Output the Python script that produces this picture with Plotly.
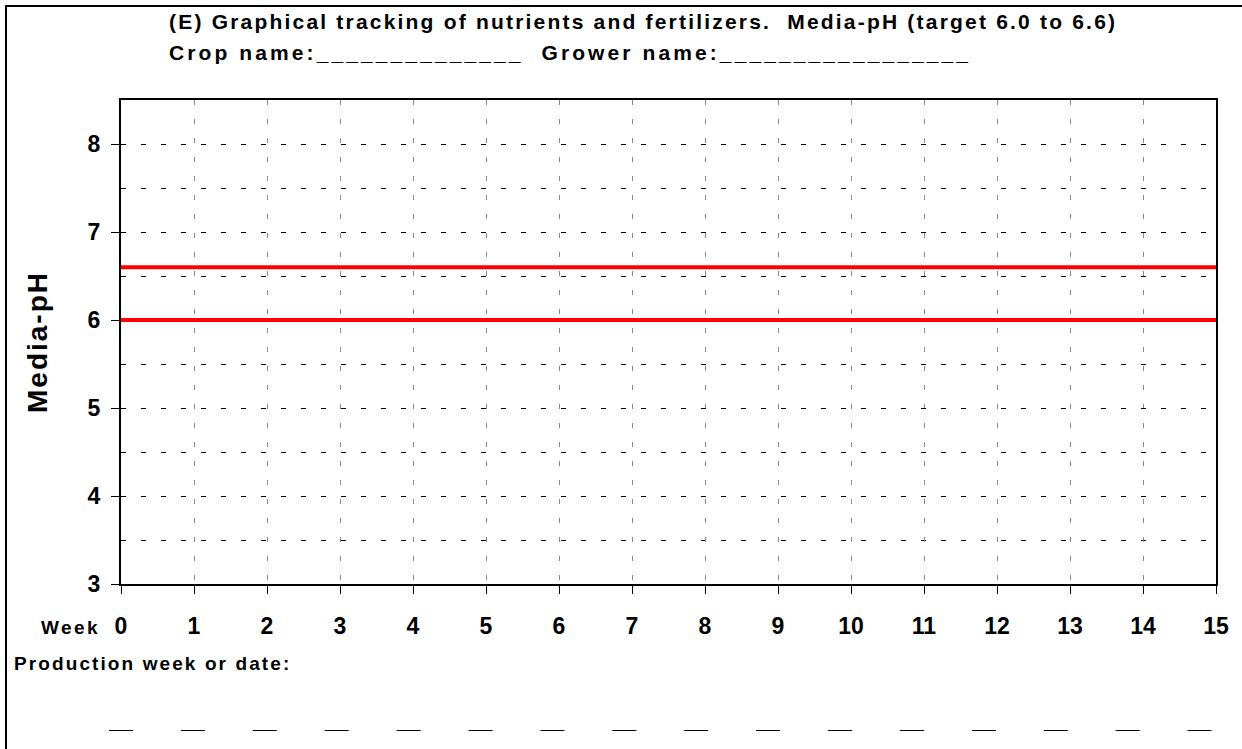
import plotly.graph_objects as go

# ---- data ----
weeks = list(range(0, 16))
week_labels = [str(w) for w in weeks]
target_low = 6.0
target_high = 6.6
y_ticks = [3, 4, 5, 6, 7, 8]
y_range = [3, 8.5]

title_line1 = "(E) Graphical tracking of nutrients and fertilizers.&nbsp; Media-pH (target 6.0 to 6.6)"
title_line2 = "Crop name:" + "_" * 14 + "&nbsp; Grower name:" + "_" * 17

FONT = "Liberation Sans, Arial, sans-serif"


def spaced(text, px):
    return f'<span style="letter-spacing:{px}px">{text}</span>'


fig = go.Figure()

for val in [target_high, target_low]:
    fig.add_trace(go.Scatter(
        x=[weeks[0], weeks[-1]], y=[val, val], mode="lines",
        line=dict(color="#ff0000", width=4), showlegend=False, hoverinfo="skip",
        cliponaxis=False))

W, H = 1242, 749
PL, PR, PT, PB = 121, 1216, 100, 584  # plot area in page pixels
L, T, R, B = PL, PT, W - PR, H - PB
pw = PR - PL
ph = PB - PT


def px_to_paper_x(px):
    return (px - PL) / pw


def px_to_paper_y(py):
    return (PB - py) / ph


fig.update_layout(
    width=W, height=H,
    margin=dict(l=L, r=R, t=T, b=B),
    paper_bgcolor="white", plot_bgcolor="white",
    font=dict(family=FONT, color="black"),
    showlegend=False,
    xaxis=dict(
        range=[weeks[0], weeks[-1]], tickvals=weeks, ticktext=week_labels,
        showline=True, linecolor="black", linewidth=2, mirror=True,
        ticks="outside", ticklen=8, tickcolor="black", tickwidth=1,
        showgrid=True, gridcolor="#888888", griddash="5px,14px", gridwidth=1,
        tickfont=dict(size=23, family=FONT, weight="bold"),
        ticklabelstandoff=12, zeroline=False,
    ),
    yaxis=dict(
        range=y_range, tickvals=y_ticks,
        showline=True, linecolor="black", linewidth=2, mirror=True,
        ticks="outside", ticklen=8, tickcolor="black", tickwidth=1,
        showgrid=True, gridcolor="black", griddash="5px,15px", gridwidth=1,
        minor=dict(dtick=0.5, showgrid=True, gridcolor="black", griddash="5px,15px", gridwidth=1, ticks=""),
        tickfont=dict(size=23, family=FONT, weight="bold"),
        ticklabelstandoff=6, zeroline=False,
        title=dict(text=spaced("Media-pH", 2), font=dict(size=28, family=FONT, weight="bold"), standoff=32),
    ),
)

annotations = [
    dict(text=spaced(title_line1, 2.2), x=px_to_paper_x(167), y=px_to_paper_y(22),
         xref="paper", yref="paper", xanchor="left", yanchor="middle", showarrow=False,
         font=dict(size=21, family=FONT, weight="bold")),
    dict(text=spaced(title_line2, 3.1), x=px_to_paper_x(167), y=px_to_paper_y(52),
         xref="paper", yref="paper", xanchor="left", yanchor="middle", showarrow=False,
         font=dict(size=21, family=FONT, weight="bold")),
    dict(text=spaced("Week", 2.4), x=px_to_paper_x(102), y=px_to_paper_y(627),
         xref="paper", yref="paper", xanchor="right", yanchor="middle", showarrow=False,
         font=dict(size=19, family=FONT, weight="bold")),
    dict(text=spaced("Production week or date:", 2.1), x=px_to_paper_x(12), y=px_to_paper_y(663),
         xref="paper", yref="paper", xanchor="left", yanchor="middle", showarrow=False,
         font=dict(size=19, family=FONT, weight="bold")),
]

shapes = [
    dict(type="rect", xref="paper", yref="paper",
         x0=px_to_paper_x(6), x1=px_to_paper_x(1300), y0=px_to_paper_y(800), y1=px_to_paper_y(6),
         line=dict(color="black", width=2), fillcolor="rgba(0,0,0,0)", layer="below"),
]
# blank entry dashes under each week (slightly narrower spacing than the ticks)
span = weeks[-1] - weeks[0]
for w in weeks:
    cx = (w - weeks[0]) * 0.985 / span
    half = 12 / pw
    shapes.append(dict(type="line", xref="paper", yref="paper",
                       x0=cx - half, x1=cx + half,
                       y0=px_to_paper_y(730.5), y1=px_to_paper_y(730.5),
                       line=dict(color="black", width=1)))

fig.update_layout(annotations=annotations, shapes=shapes)

fig.write_html("out.html", config={"displayModeBar": False},
               post_script="document.body.style.margin='0';")
